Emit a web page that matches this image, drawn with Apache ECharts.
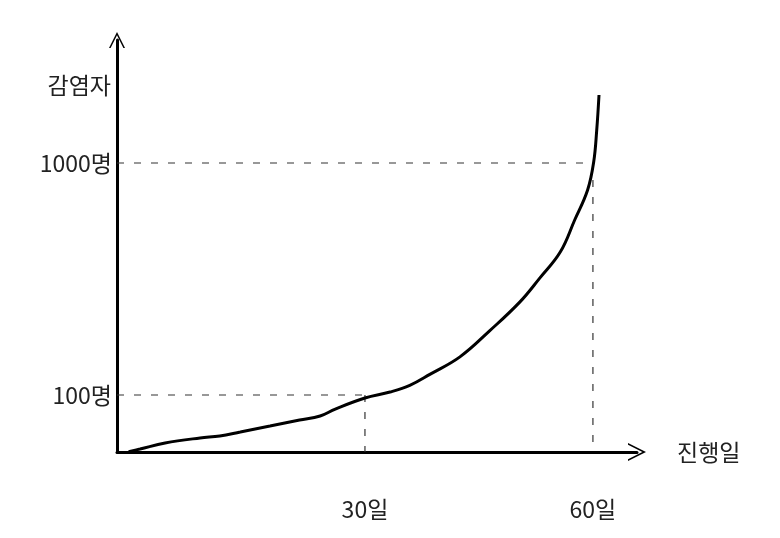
<!DOCTYPE html>
<html>
<head>
<meta charset="utf-8">
<script src="https://cdn.jsdelivr.net/npm/echarts@6/dist/echarts.min.js"></script>
<style>
  html, body { margin: 0; padding: 0; background: #fff; }
  #chart { width: 780px; height: 538px; }
</style>
</head>
<body>
<div id="chart"></div>
<script>
// sketch curve: day -> infected (log-ish y)
const days = [-1.1, 0.4, 3.7, 8.3, 10.9, 13.6, 17.5, 21.4, 24.1, 26.1, 30, 33.3, 35.9, 38.6, 42.5, 46.4, 50.4, 53.0, 55.7, 57.6, 59.3, 60.1, 60.5, 60.8];
const infected = [57, 58.5, 62.1, 65.3, 66.6, 69.3, 73.5, 78.0, 81.2, 87.0, 97.1, 103, 110, 123, 146, 189, 252, 319, 413, 568, 765, 1010, 1387, 1964];

// tick marks shown on the axes
const markDays = [30, 60];
const markCounts = [100, 1000];

const xMin = -2.63, xMax = 65.8;
const yMin = 56.8, yMax = 3389;

const font = "'Noto Sans CJK KR', 'Noto Sans', sans-serif";
const chevron = 'path://M0,12 L6,0 L12,12 L10.8,12 L6,2.4 L1.2,12 Z';

// dashed guide lines from the tick labels
const guides = [
  [[xMin, markCounts[1]], [markDays[1], markCounts[1]]],
  [[xMin, markCounts[0]], [markDays[0], markCounts[0]]],
  [[markDays[0], markCounts[0]], [markDays[0], yMin]],
  [[markDays[1], markCounts[1]], [markDays[1], yMin]]
];

let guideSeries = guides.map(function (g) {
  return {
    type: "line",
    data: g,
    symbol: "none",
    silent: true,
    lineStyle: { color: "#333", width: 1.2, type: [7, 10] },
    z: 1
  };
});

let option = {
  animation: false,
  grid: { left: 117, right: 143, top: 40, bottom: 86 },
  xAxis: {
    type: "value",
    min: xMin,
    max: xMax,
    name: "진행일",
    nameLocation: "end",
    nameGap: 40,
    nameTextStyle: { fontFamily: font, fontSize: 23, color: "#222", padding: [30, 0, 0, 0] },
    axisLine: {
      onZero: false,
      lineStyle: { color: "#000", width: 3 },
      symbol: ["none", chevron],
      symbolSize: [20, 18]
    },
    axisTick: { show: false },
    splitLine: { show: false },
    axisLabel: {
      customValues: markDays,
      formatter: function (v) { return v + "일"; },
      fontFamily: font,
      fontSize: 23,
      color: "#222",
      margin: 46
    }
  },
  yAxis: {
    type: "log",
    logBase: 10,
    min: yMin,
    max: yMax,
    name: "감염자",
    nameLocation: "end",
    nameGap: -57,
    nameTextStyle: { fontFamily: font, fontSize: 23, color: "#222", align: "right", padding: [0, 6, 0, 0] },
    axisLine: {
      onZero: false,
      lineStyle: { color: "#000", width: 3 },
      symbol: ["none", chevron],
      symbolSize: [20, 16]
    },
    axisTick: { show: false },
    splitLine: { show: false },
    axisLabel: {
      customValues: markCounts,
      formatter: function (v) { return Math.round(v) + "명"; },
      fontFamily: font,
      fontSize: 23,
      color: "#222",
      margin: 5
    }
  },
  series: guideSeries.concat([
    {
      type: "line",
      data: days.map(function (d, i) { return [d, infected[i]]; }),
      smooth: 0.4,
      symbol: "none",
      lineStyle: { color: "#000", width: 3 },
      z: 3
    }
  ])
};

let myChart = echarts.init(document.getElementById("chart"));
myChart.setOption(option);
</script>
</body>
</html>
